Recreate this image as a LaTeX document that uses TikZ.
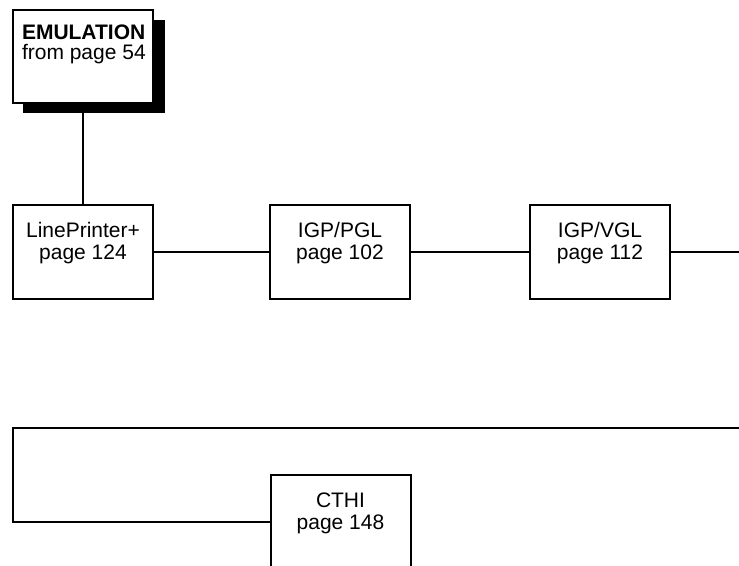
\documentclass[tikz,border=0pt]{standalone}
\usepackage{fontspec}
\setmainfont{Liberation Sans}

\tikzset{
  menubox/.style={draw, line width=1pt, fill=white, minimum width=70pt,
    minimum height=47pt, inner sep=0pt, align=center,
    font=\fontsize{10.5pt}{11pt}\selectfont},
  topbox/.style={menubox, text width=61pt, align=flush left,
    font=\fontsize{10.5pt}{10pt}\selectfont},
  link/.style={line width=1pt}
}

\begin{document}
\begin{tikzpicture}[x=0.5pt,y=-0.5pt]
    \useasboundingbox (0,0) rectangle (739,566);
    % start box with its shadow
    \fill (23,20) rectangle (165,113);
    \node[topbox, minimum height=46.5pt] (emul) at (83,56.5) {\mbox{\textbf{EMULATION}}\\\mbox{from page 54}\\[4pt]\mbox{}};
    % first row
    \node[menubox] (lp) at (83,252) {LinePrinter+\\page 124\\\mbox{}};
    \node[menubox] (pgl) at (340,252) {IGP/PGL\\page 102\\\mbox{}};
    \node[menubox] (vgl) at (600,252) {IGP/VGL\\page 112\\\mbox{}};
    \coordinate (contR) at (739,252);
    % second row
    \coordinate (backR) at (739,428);
    \coordinate (backL) at (13,428);
    \node[menubox] (cthi) at (340.5,522) {CTHI\\page 148\\\mbox{}};
    \draw[link] (83,113) -- (lp.north);
    \draw[link] (lp.east) -- (pgl.west);
    \draw[link] (pgl.east) -- (vgl.west);
    \draw[link] (vgl.east) -- (contR);
    \draw[link] (backR) -- (backL) |- (cthi.west);
  \end{tikzpicture}
\end{document}
